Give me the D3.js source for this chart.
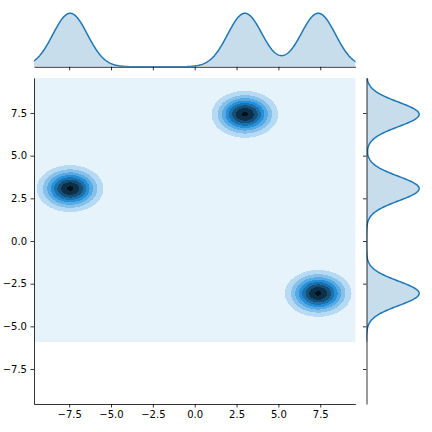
<!DOCTYPE html>
<html>
<head>
<meta charset="utf-8">
<script src="https://cdn.jsdelivr.net/npm/d3@7"></script>
<style>
  html, body { margin: 0; padding: 0; background: #fff; }
  svg { display: block; }
  text { font-family: "DejaVu Sans", sans-serif; font-size: 10px; fill: #000; }
</style>
</head>
<body>
<svg id="chart" width="432" height="432"></svg>
<script>
// ---- data ----
const clusterCenterX = [-7.44, 3.0, 7.38];
const clusterCenterY = [3.07, 7.42, -3.07];
const jointSpreadX = [0.97, 0.97, 0.97];
const jointSpreadY = [0.67, 0.67, 0.67];
const marginalSpreadX = [1.03, 1.03, 1.03];
const marginalSpreadY = [0.72, 0.72, 0.72];
const supportX = [-10.29, 10.23];
const supportY = [-5.9, 10.27];
const xLimits = [-9.6, 9.6];
const yLimits = [-9.55, 9.55];
const xTicks = [-7.5, -5.0, -2.5, 0.0, 2.5, 5.0, 7.5];
const yTicks = [-7.5, -5.0, -2.5, 0.0, 2.5, 5.0, 7.5];

// ---- layout ----
const main = { left: 34, right: 355.4, top: 78, bottom: 404 };
const margTop = { top: 10.6, bottom: 66.8 };
const margRight = { left: 366.5, right: 421.8 };
const baseColor = "#1f77b4";

const svg = d3.select("#chart");
const x = d3.scaleLinear().domain(xLimits).range([main.left, main.right]);
const y = d3.scaleLinear().domain(yLimits).range([main.bottom, main.top]);

const k = clusterCenterX.length;
function gauss(v, m, s) { return Math.exp(-0.5 * ((v - m) / s) ** 2) / (Math.sqrt(2 * Math.PI) * s); }
function density2(px, py) {
  let s = 0;
  for (let i = 0; i < k; i++) s += gauss(px, clusterCenterX[i], jointSpreadX[i]) * gauss(py, clusterCenterY[i], jointSpreadY[i]) / k;
  return s;
}
function densX(px) { let s = 0; for (let i = 0; i < k; i++) s += gauss(px, clusterCenterX[i], marginalSpreadX[i]) / k; return s; }
function densY(py) { let s = 0; for (let i = 0; i < k; i++) s += gauss(py, clusterCenterY[i], marginalSpreadY[i]) / k; return s; }

// ---- grid for 2D density ----
const nx = 240, ny = 200;
const dx = (supportX[1] - supportX[0]) / nx, dy = (supportY[1] - supportY[0]) / ny;
const values = new Float64Array(nx * ny);
let zmax = 0;
for (let j = 0; j < ny; j++) {
  const py = supportY[0] + (j + 0.5) * dy;
  for (let i = 0; i < nx; i++) {
    const v = density2(supportX[0] + (i + 0.5) * dx, py);
    values[i + j * nx] = v;
    if (v > zmax) zmax = v;
  }
}
// MaxNLocator-like levels (nbins = 11)
function niceLevels(lo, hi, nbins) {
  const raw = (hi - lo) / nbins;
  const scale = Math.pow(10, Math.floor(Math.log10(raw)));
  const steps = [1, 2, 2.5, 5, 10];
  let step = 10 * scale;
  for (const s of steps) { if (s * scale >= raw) { step = s * scale; break; } }
  const a = Math.floor(lo / step + 1e-9), b = Math.ceil(hi / step - 1e-9);
  const out = [];
  for (let i = a; i <= b; i++) out.push(+(i * step).toFixed(10));
  return out;
}
const levels = niceLevels(0, zmax, 11);
const L0 = levels[0], Ln = levels[levels.length - 1];
const cmap = t => d3.hsl(204.5, 0.706, 1 - t).formatHex();

const contours = d3.contours().size([nx, ny]).thresholds(levels.slice(0, -1))(values);

svg.append("clipPath").attr("id", "mainclip").append("rect")
  .attr("x", main.left).attr("y", main.top)
  .attr("width", main.right - main.left).attr("height", main.bottom - main.top);

function ringPath(geom) {
  let d = "";
  for (const poly of geom.coordinates) {
    for (const ring of poly) {
      ring.forEach((p, idx) => {
        const X = x(supportX[0] + p[0] * dx), Y = y(supportY[0] + p[1] * dy);
        d += (idx ? "L" : "M") + X.toFixed(2) + "," + Y.toFixed(2);
      });
      d += "Z";
    }
  }
  return d;
}
const gC = svg.append("g").attr("clip-path", "url(#mainclip)");
contours.forEach((c, i) => {
  const mid = (levels[i] + levels[i + 1]) / 2;
  const t = (mid - L0) / (Ln - L0);
  gC.append("path").attr("d", ringPath(c)).attr("fill", cmap(t))
    .attr("fill-rule", "evenodd").attr("stroke", "none")
    .attr("shape-rendering", "crispEdges");
});

// ---- main axes ----
const fmt = d3.format(".1f");
const gx = svg.append("g").attr("transform", `translate(0,${main.bottom})`)
  .call(d3.axisBottom(x).tickValues(xTicks).tickFormat(fmt).tickSize(3.5).tickSizeOuter(0).tickPadding(3.5));
const gy = svg.append("g").attr("transform", `translate(${main.left},0)`)
  .call(d3.axisLeft(y).tickValues(yTicks).tickFormat(fmt).tickSize(3.5).tickSizeOuter(0).tickPadding(3.5));
[gx, gy].forEach(g => {
  g.selectAll("path.domain").attr("stroke", "#000").attr("stroke-width", 0.8);
  g.selectAll(".tick line").attr("stroke", "#000").attr("stroke-width", 0.8);
  g.selectAll("text").attr("font-family", "DejaVu Sans, sans-serif").attr("font-size", 10).attr("fill", "#000");
});

// ---- marginals ----
const xPts = d3.range(supportX[0], supportX[1] + 1e-9, 0.04).map(v => [v, densX(v)]);
const yPts = d3.range(supportY[0], supportY[1] + 1e-9, 0.04).map(v => [v, densY(v)]);
const mxMax = d3.max(xPts, d => d[1]);
const myMax = d3.max(yPts, d => d[1]);
const hx = d3.scaleLinear().domain([0, mxMax * 1.05]).range([margTop.bottom, margTop.top]);
const hy = d3.scaleLinear().domain([0, myMax * 1.05]).range([margRight.left, margRight.right]);

svg.append("clipPath").attr("id", "topclip").append("rect")
  .attr("x", main.left).attr("y", margTop.top - 5)
  .attr("width", main.right - main.left).attr("height", margTop.bottom - margTop.top + 5);
svg.append("clipPath").attr("id", "rightclip").append("rect")
  .attr("x", margRight.left).attr("y", main.top)
  .attr("width", margRight.right - margRight.left + 5).attr("height", main.bottom - main.top);

const gT = svg.append("g").attr("clip-path", "url(#topclip)");
gT.append("path").datum(xPts)
  .attr("d", d3.area().x(d => x(d[0])).y0(hx(0)).y1(d => hx(d[1])))
  .attr("fill", baseColor).attr("fill-opacity", 0.25);
gT.append("path").datum(xPts)
  .attr("d", d3.line().x(d => x(d[0])).y(d => hx(d[1])))
  .attr("fill", "none").attr("stroke", baseColor).attr("stroke-width", 1.5);

const gR = svg.append("g").attr("clip-path", "url(#rightclip)");
gR.append("path").datum(yPts)
  .attr("d", d3.area().y(d => y(d[0])).x0(hy(0)).x1(d => hy(d[1])))
  .attr("fill", baseColor).attr("fill-opacity", 0.25);
gR.append("path").datum(yPts)
  .attr("d", d3.line().y(d => y(d[0])).x(d => hy(d[1])))
  .attr("fill", "none").attr("stroke", baseColor).attr("stroke-width", 1.5);

const gTx = svg.append("g").attr("transform", `translate(0,${margTop.bottom})`)
  .call(d3.axisBottom(x).tickValues(xTicks).tickFormat("").tickSize(3.5).tickSizeOuter(0));
const gRy = svg.append("g").attr("transform", `translate(${margRight.left},0)`)
  .call(d3.axisLeft(y).tickValues(yTicks).tickFormat("").tickSize(3.5).tickSizeOuter(0));
[gTx, gRy].forEach(g => {
  g.selectAll("path.domain").attr("stroke", "#000").attr("stroke-width", 0.8);
  g.selectAll(".tick line").attr("stroke", "#000").attr("stroke-width", 0.8);
});
</script>
</body>
</html>
